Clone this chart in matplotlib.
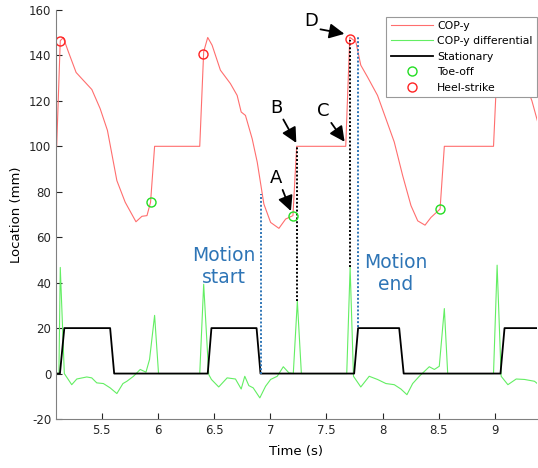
import matplotlib
matplotlib.use('Agg')
import matplotlib.pyplot as plt

plt.rcParams['axes.unicode_minus'] = False

# COP-y trace (mm)
cop_t = [5.098, 5.13, 5.157, 5.202, 5.271, 5.336, 5.411, 5.485, 5.55, 5.634, 5.708, 5.804, 5.857, 5.902,
         5.934, 5.97, 6.372, 6.407, 6.443, 6.482, 6.556, 6.645, 6.705, 6.741, 6.779, 6.839, 6.884, 6.943,
         7.003, 7.077, 7.137, 7.202, 7.235, 7.672, 7.708, 7.762, 7.806, 7.866, 7.955, 8.03, 8.104, 8.179,
         8.253, 8.313, 8.378, 8.431, 8.512, 8.55, 8.988, 9.03, 9.06, 9.1, 9.15, 9.2, 9.26, 9.3, 9.33, 9.38]
cop_y = [100, 146.5, 147.8, 141.6, 132.5, 129, 125, 116.6, 107, 84.9, 75.4, 66.8, 69.2, 69.5,
         75.4, 100, 100, 141.6, 147.9, 144.5, 133.5, 127.6, 122.4, 115.1, 113.6, 103.3, 93, 74.6,
         66.5, 63.9, 68, 69.5, 100, 100, 148, 146, 135.7, 130.5, 122.4, 112.1, 101.9, 87.1,
         73.9, 67.2, 65.3, 68.7, 72.4, 100, 100, 146, 147.5, 141, 134, 130, 127, 124, 120, 111]

# COP-y differential
diff_t = [5.092, 5.118, 5.130, 5.166, 5.232, 5.277, 5.366, 5.41, 5.455, 5.514, 5.574, 5.634, 5.688,
          5.723, 5.782, 5.842, 5.893, 5.925, 5.97, 6.005, 6.372, 6.407, 6.452, 6.476, 6.541, 6.616,
          6.69, 6.741, 6.773, 6.809, 6.848, 6.907, 6.958, 7.003, 7.062, 7.116, 7.166, 7.205, 7.241,
          7.277, 7.681, 7.711, 7.741, 7.806, 7.881, 7.955, 8.03, 8.104, 8.163, 8.217, 8.268, 8.327,
          8.416, 8.461, 8.505, 8.55, 8.58, 8.988, 9.02, 9.056, 9.116, 9.19, 9.264, 9.353, 9.39]
diff_y = [0, 0, 46.7, 0, -4.9, -2.4, -1.5, -1.9, -4.1, -4.4, -6.3, -8.8, -4.4,
          -3.4, -1.2, 1.8, 0.6, 6.2, 25.6, 0, 0, 39.3, -0.4, -2.6, -5.9, -1.9,
          -2.4, -6.8, -1.2, -5.3, -6.3, -10.7, -5.6, -2.6, -1.2, 3, 0.3, 0, 31.9,
          0, 0, 46.7, -1.2, -5.9, -1.2, -2.6, -4.4, -4.9, -6.8, -9.3, -4.4, -1.2,
          3, 1.8, 3.2, 28.6, 0, 0, 47.7, -1.2, -4.9, -2.4, -2.6, -3.4, -4.9]

# Stationary flag (0 / 20)
stat_t = [5.092, 5.127, 5.166, 5.574, 5.61, 6.443, 6.476, 6.878, 6.913, 7.747, 7.782, 8.148, 8.188,
          9.05, 9.086, 9.39]
stat_y = [0, 0, 20, 20, 0, 0, 20, 20, 0, 0, 20, 20, 0, 0, 20, 20]

# gait events
toe_t = [5.934, 7.202, 8.512]
toe_y = [75.4, 69.5, 72.4]
heel_t = [5.13, 6.402, 7.708, 9.03]
heel_y = [146.5, 140.5, 147.3, 146]

# vertical guide lines: (time, bottom, top)
motion_lines = [(6.913, 0, 79), (7.777, 20.6, 148)]
event_lines = [(7.241, 31.9, 100), (7.711, 46.7, 147)]

# letter annotations: (label, tip, text position)
letters = [('A', (7.184, 71.5), (7.05, 86)),
           ('B', (7.232, 101.5), (7.05, 117)),
           ('C', (7.662, 102), (7.47, 115.5)),
           ('D', (7.66, 149.5), (7.36, 155))]

red = '#ff6e6e'
green = '#63ee63'
blue = '#2e75b6'

fig = plt.figure(figsize=(5.38, 4.68), dpi=100)
ax = fig.add_axes([0.1041, 0.1047, 0.894, 0.874])

ax.plot(cop_t, cop_y, color=red, lw=0.8, label='COP-y')
ax.plot(diff_t, diff_y, color=green, lw=0.8, label='COP-y differential')
ax.plot(stat_t, stat_y, color='black', lw=1.3, label='Stationary')

for t, y0, y1 in motion_lines:
    ax.plot([t, t], [y0, y1], color=blue, lw=1.4, linestyle=(0, (1, 1)))
for t, y0, y1 in event_lines:
    ax.plot([t, t], [y0, y1], color='black', lw=1.4, linestyle=(0, (1, 1)))

ax.plot(toe_t, toe_y, 'o', mfc='none', mec='#22dd22', ms=6.5, mew=1.0, label='Toe-off')
ax.plot(heel_t, heel_y, 'o', mfc='none', mec='#ff2222', ms=6.5, mew=1.0, label='Heel-strike')

for lab, tip, txt in letters:
    ax.annotate(lab, xy=tip, xytext=txt, fontsize=13, ha='center', va='center',
                arrowprops=dict(arrowstyle='-|>,head_length=0.7,head_width=0.35',
                                color='black', lw=1.3, shrinkA=0, shrinkB=0,
                                relpos=(0.9, 0.1)))

ax.text(6.585, 47, 'Motion\nstart', color=blue, fontsize=13.5,
        ha='center', va='center', linespacing=1.2)
ax.text(8.115, 44, 'Motion\nend', color=blue, fontsize=13.5,
        ha='center', va='center', linespacing=1.2)

ax.set_xlim(5.092, 9.375)
ax.set_ylim(-20, 160)
ax.set_xticks([5.5, 6, 6.5, 7, 7.5, 8, 8.5, 9])
ax.set_xticklabels(['5.5', '6', '6.5', '7', '7.5', '8', '8.5', '9'])
ax.set_yticks(range(-20, 161, 20))
ax.tick_params(direction='in', length=4, labelsize=8.5, colors='#262626', width=0.8)
for s in ['left', 'bottom']:
    ax.spines[s].set_color('#808080')
    ax.spines[s].set_linewidth(0.8)
for s in ['top', 'right']:
    ax.spines[s].set_visible(False)

ax.set_xlabel('Time (s)', fontsize=9.5, labelpad=6)
ax.set_ylabel('Location (mm)', fontsize=9.5, labelpad=4)

leg = ax.legend(loc='upper right', bbox_to_anchor=(1.0, 0.984), borderaxespad=0,
                fontsize=7.8, handlelength=3.9, handletextpad=0.4, labelspacing=0.5,
                fancybox=False, framealpha=1, edgecolor='#999999', borderpad=0.4)
leg.get_frame().set_linewidth(0.8)

fig.savefig('out.png', dpi=100)
